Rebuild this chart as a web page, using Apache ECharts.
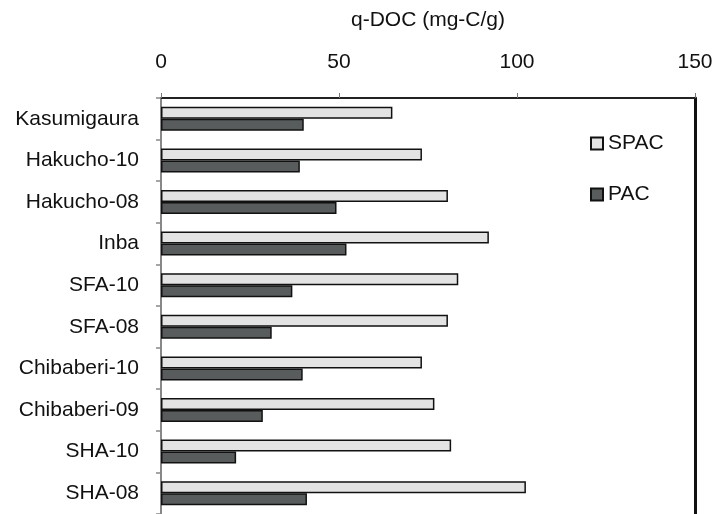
<!DOCTYPE html>
<html>
<head>
<meta charset="utf-8">
<script src="https://cdn.jsdelivr.net/npm/echarts@6/dist/echarts.min.js"></script>
<style>html,body{margin:0;padding:0;background:#fff}#c{width:717px;height:514px}</style>
</head>
<body>
<div id="c"></div>
<script>
const categories = ["Kasumigaura","Hakucho-10","Hakucho-08","Inba","SFA-10","SFA-08","Chibaberi-10","Chibaberi-09","SHA-10","SHA-08"];
const spac = [65.0, 73.3, 80.6, 92.1, 83.5, 80.6, 73.3, 76.8, 81.5, 102.5];
const pac  = [40.1, 39.0, 49.3, 52.1, 36.9, 31.1, 39.8, 28.6, 21.1, 41.0];
const xTicks = [0, 50, 100, 150];
const axisTitle = "q-DOC (mg-C/g)";

const FONT = "Liberation Sans, Arial, sans-serif";
const chart = echarts.init(document.getElementById('c'), null, {renderer:'canvas'});
chart.setOption({
  animation: false,
  backgroundColor: '#fff',
  textStyle: {fontFamily: FONT},
  grid: {left: 161, right: 22, top: 98, bottom: 0, containLabel: false},
  legend: {
    orient: 'vertical', left: 585, top: 128,
    icon: 'rect',
    itemWidth: 12, itemHeight: 12, itemGap: 30,
    textStyle: {fontSize: 21, color: '#111', fontFamily: FONT},
    data: ['SPAC','PAC']
  },
  xAxis: {
    type: 'value', position: 'top',
    min: xTicks[0], max: xTicks[xTicks.length-1], interval: 50,
    name: axisTitle, nameLocation: 'middle', nameGap: 67,
    nameTextStyle: {fontSize: 21, color: '#111', fontFamily: FONT},
    axisLine: {show: true, lineStyle: {color: '#222', width: 2}},
    axisTick: {show: true, length: 5, lineStyle: {color: '#777', width: 1}},
    axisLabel: {fontSize: 21, color: '#111', margin: 25, fontFamily: FONT},
    splitLine: {show: false}
  },
  yAxis: [{
    type: 'category', data: categories, inverse: true,
    axisLine: {show: true, lineStyle: {color: '#888', width: 2}},
    axisTick: {show: true, length: 5, lineStyle: {color: '#888', width: 1.5}},
    axisLabel: {fontSize: 21, color: '#111', margin: 22, fontFamily: FONT}
  },{
    type: 'category', data: categories, inverse: true, position: 'right',
    axisLine: {show: true, lineStyle: {color: '#111', width: 3}},
    axisTick: {show: false}, axisLabel: {show: false}
  }],
  series: [
    {name: 'SPAC', type: 'bar', data: spac, barWidth: 12, barGap: '0%',
     itemStyle: {color: '#e3e3e3', borderColor: '#111', borderWidth: 1.5}},
    {name: 'PAC', type: 'bar', data: pac, barWidth: 12, barGap: '0%',
     itemStyle: {color: '#595c5c', borderColor: '#111', borderWidth: 1.5}}
  ]
});
</script>
</body>
</html>
